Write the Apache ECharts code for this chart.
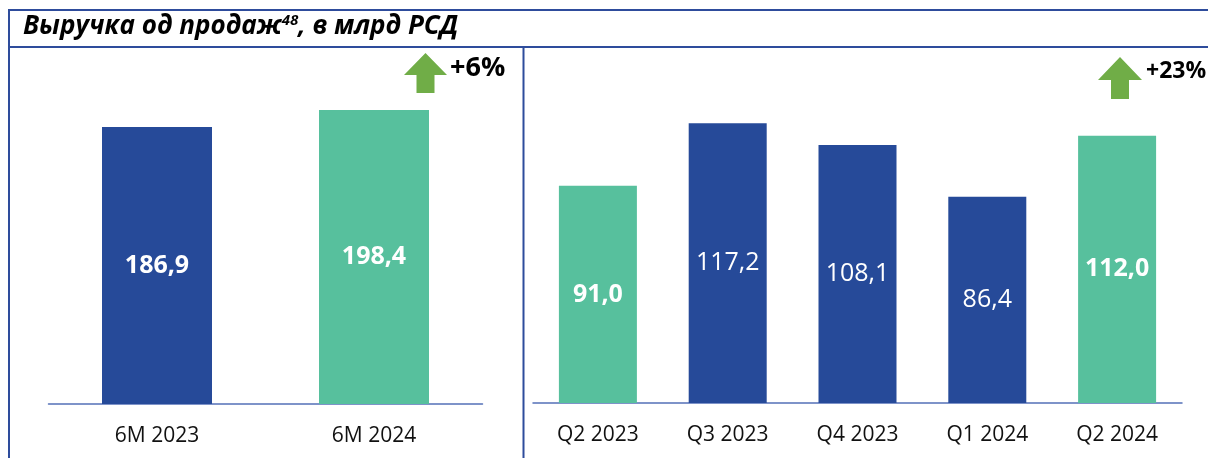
<!DOCTYPE html>
<html><head><meta charset="utf-8">
<script src="https://cdn.jsdelivr.net/npm/echarts@6/dist/echarts.min.js"></script>
<style>html,body{margin:0;padding:0;background:#fff}#c{width:1208px;height:458px}</style>
</head><body><div id="c"></div>
<script>
const leftCategories = ['6M 2023', '6M 2024'];
const leftValues = [186.9, 198.4];
const rightCategories = ['Q2 2023', 'Q3 2023', 'Q4 2023', 'Q1 2024', 'Q2 2024'];
const rightValues = [91.0, 117.2, 108.1, 86.4, 112.0];
const rightHighlight = [true, false, false, false, true];
const leftGrowth = '+6%';
const rightGrowth = '+23%';
const titleMain = 'Выручка од продаж';
const titleSup = '48';
const titleTail = ', в млрд РСД';

const BLUE = '#264A99';
const GREEN = '#57C09D';
const LINE = '#2E4C9C';
const ARROW = '#70AD47';
const FONT = '"Open Sans", "Liberation Sans", sans-serif';

const fmt = v => v.toFixed(1).replace('.', ',');

const chart = echarts.init(document.getElementById('c'), null, {renderer: 'canvas'});

function arrow(x, y, w, h, stemW, headH) {
  const cx = x + w / 2;
  return {
    type: 'polygon',
    shape: {points: [[cx, y], [x + w, y + headH], [cx + stemW / 2, y + headH], [cx + stemW / 2, y + h],
      [cx - stemW / 2, y + h], [cx - stemW / 2, y + headH], [x, y + headH]]},
    style: {fill: ARROW}
  };
}

chart.setOption({
  animation: false,
  grid: [
    {left: 48.5, width: 434, top: 107.6, height: 296.4},
    {left: 533, width: 649, top: 116.6, height: 286.4}
  ],
  xAxis: [
    {type: 'category', gridIndex: 0, data: leftCategories,
      axisLine: {lineStyle: {color: '#5470B8', width: 1.5}}, axisTick: {show: false},
      axisLabel: {color: '#111', fontSize: 21, fontFamily: FONT, margin: 22}},
    {type: 'category', gridIndex: 1, data: rightCategories,
      axisLine: {lineStyle: {color: '#5470B8', width: 1.5}}, axisTick: {show: false},
      axisLabel: {color: '#111', fontSize: 21, fontFamily: FONT, margin: 22}}
  ],
  yAxis: [
    {type: 'value', gridIndex: 0, min: 0, max: 200, show: false},
    {type: 'value', gridIndex: 1, min: 0, max: 120, show: false}
  ],
  series: [
    {type: 'bar', xAxisIndex: 0, yAxisIndex: 0, barWidth: 110,
      data: leftValues.map((v, i) => ({value: v, itemStyle: {color: i === 0 ? BLUE : GREEN}})),
      label: {show: true, position: 'inside', formatter: p => fmt(p.value), color: '#fff',
        fontSize: 25, fontWeight: 'bold', fontFamily: FONT}},
    {type: 'bar', xAxisIndex: 1, yAxisIndex: 1, barWidth: 78,
      data: rightValues.map((v, i) => ({value: v, itemStyle: {color: rightHighlight[i] ? GREEN : BLUE},
        label: {fontWeight: rightHighlight[i] ? 'bold' : 'normal'}})),
      label: {show: true, position: 'inside', formatter: p => fmt(p.value), color: '#fff',
        fontSize: 25, fontFamily: FONT}}
  ],
  graphic: [
    {type: 'line', shape: {x1: 9, y1: 10, x2: 1208, y2: 10}, style: {stroke: LINE, lineWidth: 2}},
    {type: 'line', shape: {x1: 9, y1: 47, x2: 1208, y2: 47}, style: {stroke: LINE, lineWidth: 2}},
    {type: 'line', shape: {x1: 9, y1: 9, x2: 9, y2: 458}, style: {stroke: LINE, lineWidth: 2}},
    {type: 'line', shape: {x1: 523.5, y1: 47, x2: 523.5, y2: 458}, style: {stroke: LINE, lineWidth: 2}},
    {type: 'text', left: 23, top: 13,
      style: {text: '{m|' + titleMain + '}{s|' + titleSup + '}{m|' + titleTail + '}',
        rich: {
          m: {fontSize: 26, fontWeight: 'bold', fontStyle: 'italic', fontFamily: FONT, fill: '#000', verticalAlign: 'bottom'},
          s: {fontSize: 15, fontWeight: 'bold', fontStyle: 'italic', fontFamily: FONT, fill: '#000', verticalAlign: 'top', padding: [0, 0, 12, 0]}
        }}},
    arrow(404, 53, 43, 40, 18, 22),
    {type: 'text', left: 450, top: 55, style: {text: leftGrowth, fontSize: 27, fontWeight: 'bold', fontFamily: FONT, fill: '#000'}},
    arrow(1098, 57, 44, 42, 18, 23),
    {type: 'text', left: 1146, top: 60, style: {text: rightGrowth, fontSize: 23, fontWeight: 'bold', fontFamily: FONT, fill: '#000'}}
  ]
});
</script></body></html>
